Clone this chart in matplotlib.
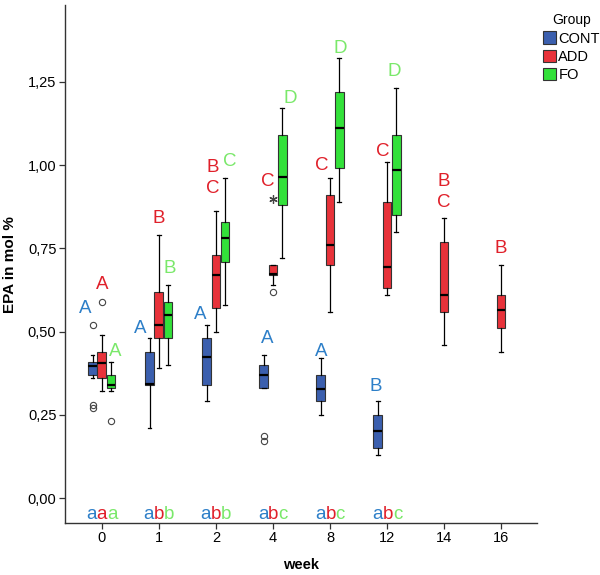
import matplotlib.pyplot as plt
import numpy as np
from matplotlib.patches import Patch

plt.rcParams['font.family'] = ['Liberation Sans', 'DejaVu Sans']

weeks = ['0', '1', '2', '4', '8', '12', '14', '16']
groups = ['CONT', 'ADD', 'FO']

# whislo, q1, median, q3, whishi for each week (None = not measured)
cont_box = [[0.36, 0.37, 0.397, 0.41, 0.43],
            [0.21, 0.34, 0.343, 0.44, 0.48],
            [0.29, 0.34, 0.425, 0.48, 0.52],
            [0.33, 0.33, 0.37, 0.40, 0.43],
            [0.25, 0.29, 0.328, 0.37, 0.42],
            [0.13, 0.15, 0.20, 0.25, 0.29],
            None, None]
add_box = [[0.32, 0.36, 0.405, 0.44, 0.49],
           [0.39, 0.48, 0.52, 0.62, 0.79],
           [0.50, 0.57, 0.67, 0.73, 0.862],
           [0.64, 0.67, 0.672, 0.70, 0.70],
           [0.56, 0.70, 0.76, 0.91, 0.96],
           [0.61, 0.63, 0.695, 0.89, 1.01],
           [0.46, 0.56, 0.61, 0.77, 0.84],
           [0.44, 0.51, 0.565, 0.61, 0.70]]
fo_box = [[0.32, 0.33, 0.34, 0.37, 0.41],
          [0.40, 0.48, 0.55, 0.59, 0.64],
          [0.58, 0.71, 0.78, 0.83, 0.96],
          [0.72, 0.88, 0.965, 1.09, 1.17],
          [0.89, 0.99, 1.11, 1.22, 1.32],
          [0.80, 0.85, 0.985, 1.09, 1.23],
          None, None]

# outliers (circles) and extremes (asterisk)
cont_out = [[0.52, 0.28, 0.27], [], [], [0.185, 0.17], [], [], [], []]
add_out = [[0.59], [], [], [0.62], [], [], [], []]
fo_out = [[0.23], [], [], [], [], [], [], []]
add_extreme = [[], [], [], [0.898], [], [], [], []]

# significance letters (uppercase: between weeks, lowercase: between groups)
cont_sig = ['A', 'A', 'A', 'A', 'A', 'B', '', '']
add_sig = ['A', 'B', 'B\nC', 'C', 'C', 'C', 'B\nC', 'B']
fo_sig = ['A', 'B', 'C', 'D', 'D', 'D', '', '']
cont_low = ['a', 'a', 'a', 'a', 'a', 'a']
add_low = ['a', 'b', 'b', 'b', 'b', 'b']
fo_low = ['a', 'b', 'b', 'c', 'c', 'c']

# layout of the letters
cont_sig_y = [0.57, 0.51, 0.55, 0.48, 0.44, 0.335, None, None]
add_sig_y = [0.64, 0.84, 0.96, 0.95, 1.00, 1.04, 0.92, 0.75]
fo_sig_y = [0.44, 0.69, 1.01, 1.20, 1.35, 1.28, None, None]
cont_sig_dx = [-0.30, -0.32, -0.28, -0.10, -0.16, -0.19, 0, 0]
add_sig_dx = [0.0, 0.0, -0.05, -0.10, -0.14, -0.07, 0.0, 0.0]
fo_sig_dx = [0.23, 0.19, 0.25, 0.30, 0.18, 0.12, 0, 0]

box_cols = ['#3b5fae', '#e8323a', '#33e13a']
txt_cols = ['#2d7fc8', '#e0202a', '#7ae86a']
offs = [-0.16, 0.0, 0.16]
bw = 0.155
fs_sig = 13.5
char_w = {'a': 0.556, 'b': 0.556, 'c': 0.5}  # Arial advance widths (em)

fig = plt.figure(figsize=(6, 5.75), dpi=100)
ax = fig.add_axes([0.108, 0.0904, 0.787, 0.9006])

xs = np.arange(len(weeks))
all_box = [cont_box, add_box, fo_box]
all_out = [cont_out, add_out, fo_out]
only_add = [w is None for w in cont_box]

for g in range(3):
    stats, pos = [], []
    for i, b in enumerate(all_box[g]):
        if b is None:
            continue
        stats.append(dict(whislo=b[0], q1=b[1], med=b[2], q3=b[3], whishi=b[4],
                          fliers=all_out[g][i]))
        pos.append(xs[i] if only_add[i] else xs[i] + offs[g])
    ax.bxp(stats, positions=pos, widths=bw, patch_artist=True, capwidths=0.06,
           boxprops=dict(facecolor=box_cols[g], edgecolor='#333333', linewidth=0.8),
           medianprops=dict(color='black', linewidth=1.6),
           whiskerprops=dict(color='black', linewidth=0.9),
           capprops=dict(color='black', linewidth=0.9),
           flierprops=dict(marker='o', markersize=4.5, markerfacecolor='none',
                           markeredgecolor='#444444', markeredgewidth=0.8))

for i, ex in enumerate(add_extreme):
    for v in ex:
        ax.plot(xs[i], v, marker=(6, 2, 0), color='#444444', markersize=6,
                markeredgewidth=0.9)

sigs = [cont_sig, add_sig, fo_sig]
sig_y = [cont_sig_y, add_sig_y, fo_sig_y]
sig_dx = [cont_sig_dx, add_sig_dx, fo_sig_dx]
for g in range(3):
    for i in range(len(weeks)):
        if sigs[g][i]:
            ax.text(xs[i] + sig_dx[g][i], sig_y[g][i], sigs[g][i], color=txt_cols[g],
                    fontsize=fs_sig, ha='center', va='center', linespacing=1.3)

lows = [cont_low, add_low, fo_low]
for i in range(len(cont_low)):
    chars = [lows[g][i] for g in range(3)]
    widths = [char_w[c] * fs_sig for c in chars]
    x0 = -sum(widths) / 2
    for g in range(3):
        ax.annotate(chars[g], (xs[i], -0.05), xytext=(x0, 0),
                    textcoords='offset points', color=txt_cols[g], fontsize=fs_sig,
                    ha='left', va='center')
        x0 += widths[g]

ax.set_xlim(-0.65, 7.63)
ax.set_ylim(-0.075, 1.48)
ax.set_xticks(xs)
ax.set_xticklabels(weeks)
yt = [0, 0.25, 0.5, 0.75, 1.0, 1.25]
ax.set_yticks(yt)
ax.set_yticklabels([f'{v:.2f}'.replace('.', ',') for v in yt])
ax.tick_params(labelsize=10.5, length=4, width=0.9, color='#333333', pad=2)
for s in ['top', 'right']:
    ax.spines[s].set_visible(False)
for s in ['left', 'bottom']:
    ax.spines[s].set_color('#333333')
    ax.spines[s].set_linewidth(1.0)

ax.set_xlabel('week', fontsize=10.5, fontweight='bold', labelpad=9)
ax.set_ylabel('EPA in mol %', fontsize=11, fontweight='bold', labelpad=8)

handles = [Patch(facecolor=c, edgecolor='#333333', linewidth=0.8) for c in box_cols]
fig.legend(handles, groups, title='Group', loc='upper left',
           bbox_to_anchor=(0.888, 0.995), frameon=False, fontsize=10.5,
           title_fontsize=10, handlelength=0.9, handleheight=0.9,
           handletextpad=0.15, labelspacing=0.3, borderpad=0.2)

fig.savefig('out.png', dpi=100)
